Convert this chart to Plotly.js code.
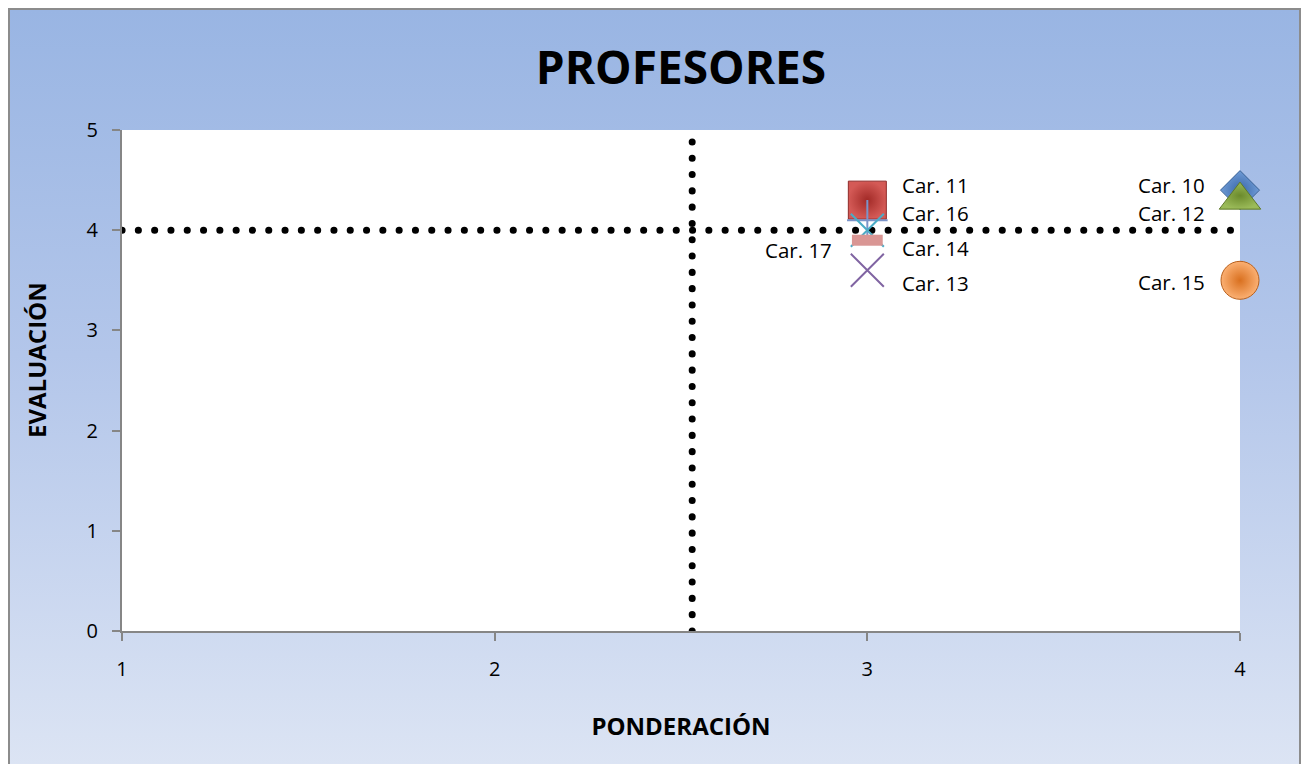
<!DOCTYPE html>
<html>
<head>
<meta charset="utf-8">
<script src="https://cdn.plot.ly/plotly-3.0.1.min.js"></script>
<style>
  html, body { margin:0; padding:0; background:#ffffff; width:1307px; height:764px; overflow:hidden; }
  #frame { position:absolute; left:8px; top:8px; width:1293px; height:770px;
           border:2px solid #8c8c8c; box-sizing:border-box;
           background:linear-gradient(to bottom, #99b5e3 0%, #b3c6ea 45%, #dde5f4 100%); }
  #chart { position:absolute; left:0; top:0; width:1307px; height:764px; }
</style>
</head>
<body>
<div id="frame"></div>
<div id="chart"></div>
<script>
// ---- data ----
const seriesNames = ["Car. 10", "Car. 11", "Car. 12", "Car. 13", "Car. 14", "Car. 15", "Car. 16", "Car. 17"];
const ponderacion = [4, 3, 4, 3, 3, 4, 3, 3];
const evaluacion  = [4.4, 4.3, 4.3, 3.6, 3.9, 3.5, 4.1, 4.0];
const refPonderacion = 2.53;   // vertical dotted reference
const refEvaluacion = 4.0;     // horizontal dotted reference
const xTicks = [1, 2, 3, 4];
const yTicks = [0, 1, 2, 3, 4, 5];

// ---- styles ----
const markerStyles = {
  "Car. 10": {symbol:"diamond", size:30, color:"#6f9bd6", gradient:{type:"radial", color:"#3a68a8"}, line:{color:"#3a6296", width:1}},
  "Car. 11": {symbol:"square", size:38, color:"#d45a56", gradient:{type:"radial", color:"#a22a27"}, line:{color:"#8e2a28", width:1}},
  "Car. 12": {symbol:"triangle-up", size:36, color:"#9bbb59", gradient:{type:"radial", color:"#6b8a2c"}, line:{color:"#5f7a28", width:1}},
  "Car. 13": {symbol:"x-thin-open", size:33, color:"#8064a2", line:{color:"#8064a2", width:2}},
  "Car. 14": {symbol:"line-ew-open", size:22, color:"#d99694", line:{color:"#d08f8d", width:11}},
  "Car. 15": {symbol:"circle", size:38, color:"#fbb073", gradient:{type:"radial", color:"#d9701f"}, line:{color:"#b8601c", width:1}},
  "Car. 16": {symbol:"cross-thin-open", size:29, color:"#7b94c9", line:{color:"#7b94c9", width:2}},
  "Car. 17": {symbol:"x-thin-open", size:33, color:"#4bacc6", line:{color:"#4bacc6", width:2}}
};
// label placement (side, upward pixel shift)
const labelPlacement = {
  "Car. 10": {side:"left",  up:5},
  "Car. 11": {side:"right", up:15},
  "Car. 12": {side:"left",  up:-13},
  "Car. 13": {side:"right", up:-13},
  "Car. 14": {side:"right", up:-8},
  "Car. 15": {side:"left",  up:-2},
  "Car. 16": {side:"right", up:7},
  "Car. 17": {side:"left",  up:-20}
};

const FONT = "Open Sans, Noto Sans, sans-serif";
const traces = [];
// dotted reference lines
traces.push({x:[1, 4], y:[refEvaluacion, refEvaluacion], mode:"lines", hoverinfo:"skip", showlegend:false,
  line:{color:"#000000", width:7, dash:"1px,15px"}, name:"refH"});
traces.push({x:[refPonderacion, refPonderacion], y:[0, 5], mode:"lines", hoverinfo:"skip", showlegend:false,
  line:{color:"#000000", width:7, dash:"1px,15px"}, name:"refV"});

const drawOrder = ["Car. 11", "Car. 16", "Car. 17", "Car. 13", "Car. 14", "Car. 10", "Car. 12", "Car. 15"];
drawOrder.forEach(n => {
  const i = seriesNames.indexOf(n);
  traces.push({x:[ponderacion[i]], y:[evaluacion[i]], mode:"markers", name:n, showlegend:false,
    marker:markerStyles[n], cliponaxis:false});
});

const annotations = seriesNames.map((n, i) => {
  const p = labelPlacement[n];
  return {x:ponderacion[i], y:evaluacion[i], xref:"x", yref:"y", text:n, showarrow:false,
    xanchor: p.side === "right" ? "left" : "right",
    xshift: p.side === "right" ? 33 : -33, yshift: p.up,
    font:{family:FONT, size:20.5, color:"#000000"}};
});
annotations.push({text:"<b>EVALUACIÓN</b>", xref:"paper", yref:"paper", x:-0.076, y:0.541,
  textangle:-90, showarrow:false, xanchor:"center", yanchor:"middle",
  font:{family:FONT, size:24, color:"#000000"}});

const layout = {
  width:1307, height:764,
  paper_bgcolor:"rgba(0,0,0,0)", plot_bgcolor:"#ffffff",
  margin:{l:122, r:67, t:130, b:133},
  showlegend:false,
  title:{text:"<b>PROFESORES</b>", x:0.5, xref:"paper", y:0.911, yanchor:"middle",
    font:{family:FONT, size:46, color:"#000000"}},
  xaxis:{range:[1, 4], tickvals:xTicks, ticktext:xTicks.map(String), showgrid:false, zeroline:false,
    showline:true, linecolor:"#868686", linewidth:2, ticks:"outside", ticklen:8, tickcolor:"#868686", tickwidth:2,
    ticklabelstandoff:11, tickfont:{family:FONT, size:20, color:"#000000"},
    title:{text:"<b>PONDERACIÓN</b>", standoff:37, font:{family:FONT, size:24, color:"#000000"}}},
  yaxis:{range:[0, 5], tickvals:yTicks, ticktext:yTicks.map(String), showgrid:false, zeroline:false,
    showline:true, linecolor:"#868686", linewidth:2, ticks:"outside", ticklen:8, tickcolor:"#868686", tickwidth:2,
    ticklabelstandoff:10, tickfont:{family:FONT, size:20, color:"#000000"}},
  annotations:annotations
};

Plotly.newPlot("chart", traces, layout, {displayModeBar:false, staticPlot:true}).then(() => {
  document.querySelectorAll("#chart .scatterlayer .trace").forEach((t, k) => {
    if (k < 2) {
      t.querySelectorAll("path.js-line").forEach(p => {
        p.style.setProperty("stroke-linecap", "round");
        p.style.setProperty("stroke-dasharray", "0.1px,16.2px");
      });
    }
  });
});
</script>
</body>
</html>
